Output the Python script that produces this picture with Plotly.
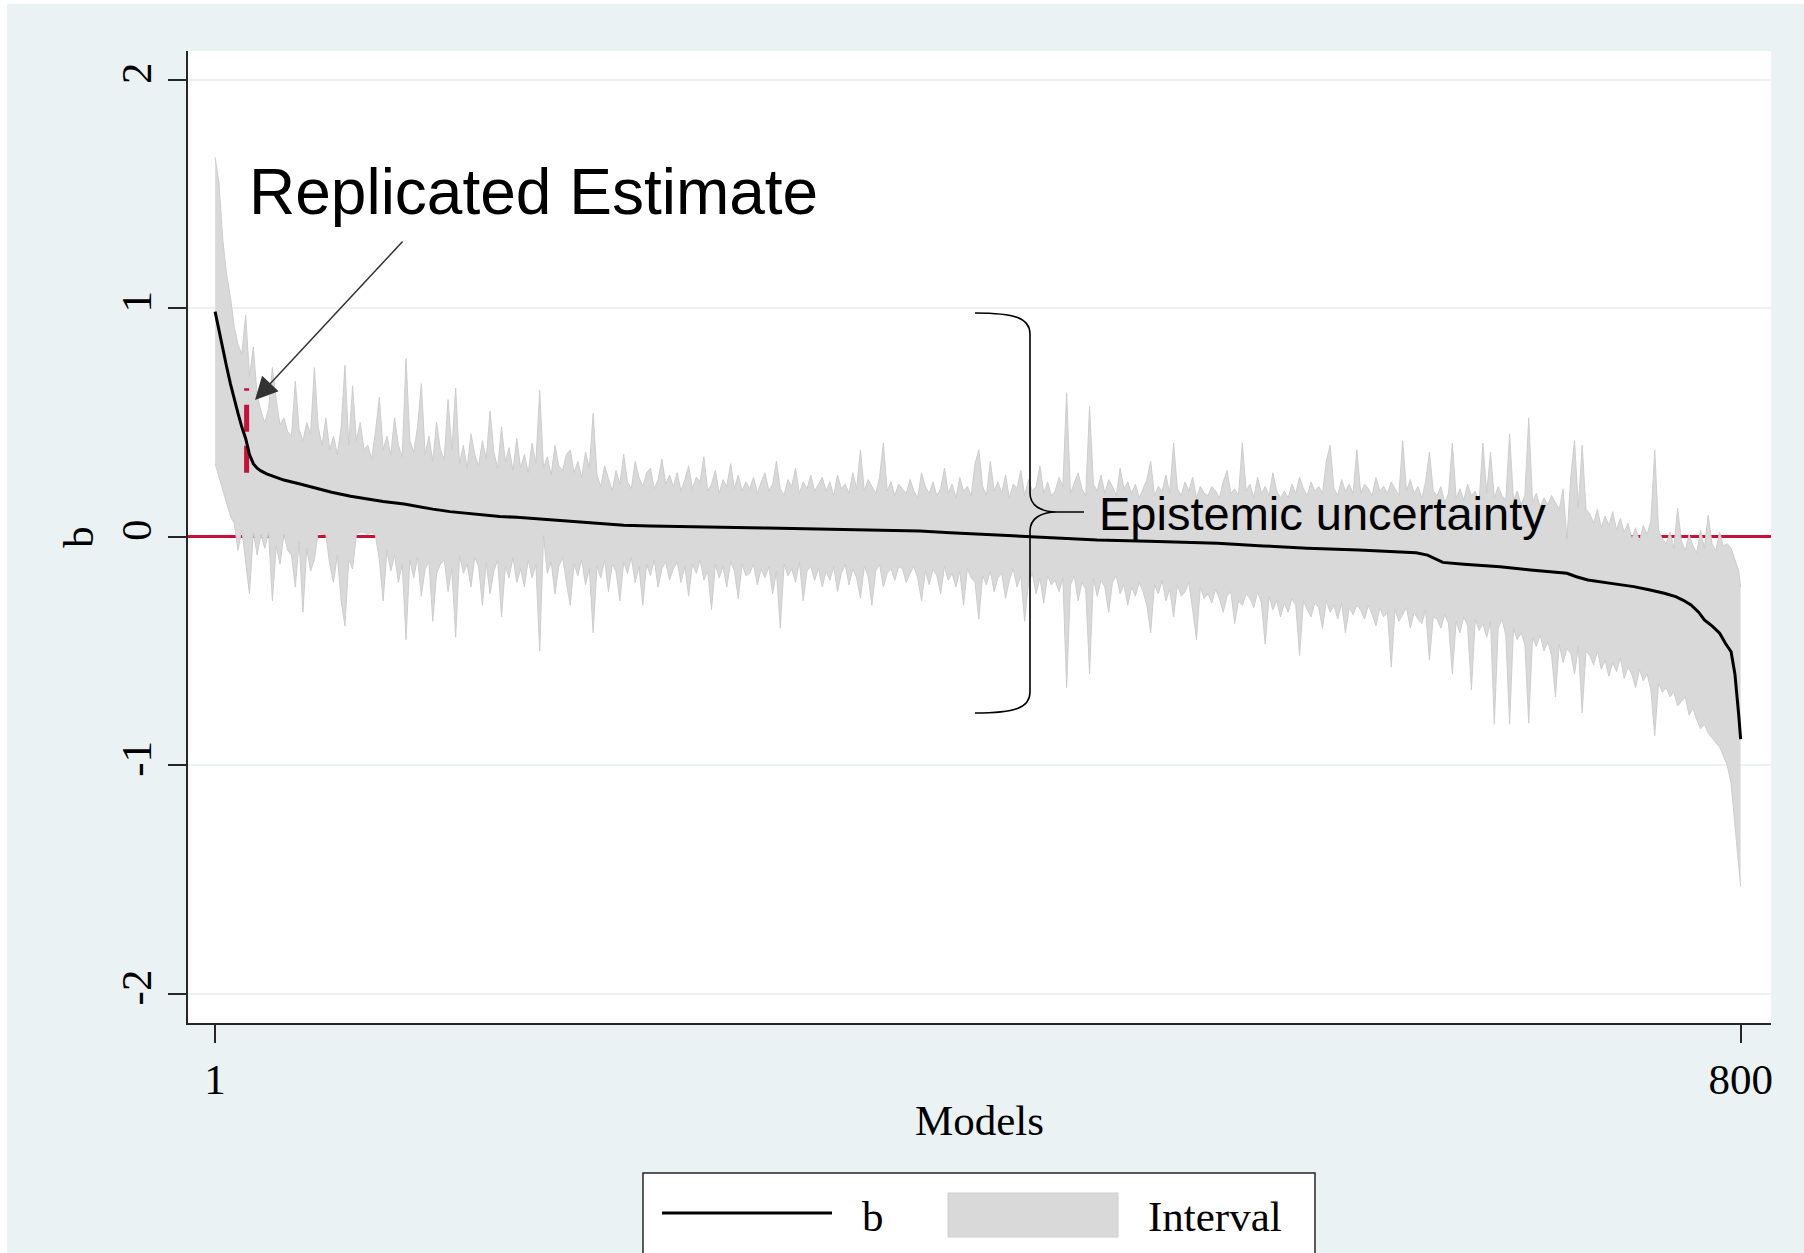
import plotly.graph_objects as go

# ---------------- data ----------------
ci_models = list(range(1, 800, 2)) + [800]

upper = (
    [1.66, 1.55, 1.30, 1.15, 1.05, 0.92, 0.84, 0.80, 0.97, 0.70, 0.83, 0.62, 0.55, 0.50, 0.56, 0.74, 0.60, 0.49, 0.52, 0.46]
    + [0.44, 0.68, 0.47, 0.42, 0.50, 0.45, 0.74, 0.48, 0.40, 0.52, 0.38, 0.44, 0.36, 0.48, 0.75, 0.40, 0.66, 0.42, 0.50, 0.38]
    + [0.40, 0.34, 0.46, 0.61, 0.38, 0.44, 0.36, 0.52, 0.40, 0.35, 0.78, 0.42, 0.37, 0.48, 0.67, 0.36, 0.44, 0.33, 0.50, 0.38]
    + [0.34, 0.60, 0.38, 0.65, 0.32, 0.40, 0.30, 0.45, 0.36, 0.31, 0.42, 0.34, 0.55, 0.37, 0.30, 0.48, 0.33, 0.39, 0.29, 0.43]
    + [0.30, 0.36, 0.28, 0.41, 0.32, 0.64, 0.30, 0.35, 0.27, 0.40, 0.31, 0.29, 0.36, 0.38, 0.28, 0.33, 0.26, 0.37, 0.30, 0.54]
    + [0.27, 0.22, 0.31, 0.25, 0.20, 0.29, 0.23, 0.36, 0.24, 0.21, 0.33, 0.26, 0.22, 0.28, 0.30, 0.21, 0.25, 0.34, 0.23, 0.27]
    + [0.22, 0.28, 0.20, 0.25, 0.31, 0.21, 0.26, 0.24, 0.35, 0.20, 0.23, 0.29, 0.19, 0.25, 0.22, 0.32, 0.21, 0.27, 0.20, 0.24]
    + [0.21, 0.26, 0.19, 0.24, 0.28, 0.20, 0.23, 0.33, 0.21, 0.18, 0.25, 0.22, 0.30, 0.19, 0.24, 0.21, 0.27, 0.20, 0.23, 0.26]
    + [0.20, 0.24, 0.18, 0.27, 0.21, 0.23, 0.19, 0.28, 0.21, 0.38, 0.20, 0.25, 0.22, 0.19, 0.26, 0.41, 0.20, 0.24, 0.18, 0.23]
    + [0.21, 0.19, 0.25, 0.20, 0.17, 0.28, 0.22, 0.19, 0.24, 0.18, 0.21, 0.30, 0.19, 0.23, 0.17, 0.26, 0.20, 0.22, 0.18, 0.32]
    + [0.38, 0.22, 0.18, 0.33, 0.20, 0.24, 0.19, 0.27, 0.17, 0.23, 0.21, 0.29, 0.18, 0.25, 0.20, 0.22, 0.31, 0.19, 0.24, 0.18]
    + [0.20, 0.26, 0.22, 0.63, 0.19, 0.24, 0.28, 0.21, 0.18, 0.57, 0.23, 0.20, 0.27, 0.19, 0.25, 0.22, 0.18, 0.30, 0.21, 0.24]
    + [0.19, 0.23, 0.17, 0.21, 0.25, 0.33, 0.18, 0.22, 0.20, 0.27, 0.19, 0.41, 0.21, 0.18, 0.24, 0.20, 0.26, 0.17, 0.22, 0.19]
    + [0.18, 0.22, 0.20, 0.17, 0.24, 0.29, 0.19, 0.21, 0.18, 0.41, 0.20, 0.23, 0.17, 0.26, 0.19, 0.22, 0.18, 0.28, 0.20, 0.17]
    + [0.20, 0.17, 0.23, 0.19, 0.26, 0.21, 0.18, 0.24, 0.20, 0.22, 0.19, 0.33, 0.40, 0.21, 0.18, 0.25, 0.20, 0.23, 0.19, 0.38]
    + [0.19, 0.23, 0.21, 0.18, 0.26, 0.20, 0.22, 0.19, 0.24, 0.21, 0.18, 0.42, 0.20, 0.25, 0.19, 0.22, 0.17, 0.24, 0.37, 0.20]
    + [0.18, 0.22, 0.15, 0.19, 0.41, 0.17, 0.21, 0.16, 0.23, 0.18, 0.20, 0.15, 0.41, 0.19, 0.37, 0.17, 0.22, 0.18, 0.16, 0.45]
    + [0.16, 0.20, 0.14, 0.18, 0.52, 0.15, 0.19, 0.13, 0.17, 0.14, 0.18, 0.15, 0.12, 0.21, -0.01, 0.26, 0.42, 0.13, 0.40, 0.12]
    + [0.10, 0.06, 0.12, 0.04, 0.09, 0.05, 0.11, 0.03, 0.08, 0.02, 0.06, -0.01, 0.04, -0.02, 0.05, 0.01, 0.07, 0.38, 0.03, -0.01]
    + [-0.03, 0.02, -0.05, 0.125, -0.02, -0.06, 0.01, -0.04, -0.07, 0.03, -0.05, 0.095, -0.03, -0.06, 0.02, -0.04, -0.03, -0.05, -0.10, -0.15, -0.22]
)

lower = (
    [0.32, 0.26, 0.20, 0.14, 0.09, 0.06, -0.06, 0.03, -0.10, -0.25, 0.02, -0.08, 0.01, -0.05, 0.02, -0.28, -0.04, -0.12, 0.01, -0.06]
    + [-0.08, -0.22, -0.02, -0.33, -0.05, -0.15, -0.10, 0.02, 0.01, 0.01, -0.12, -0.20, -0.08, -0.28, -0.39, -0.10, -0.14, 0.01, 0.02, 0.02]
    + [0.01, 0.02, 0.005, -0.10, -0.28, -0.06, -0.15, -0.08, -0.20, -0.12, -0.45, -0.10, -0.18, -0.09, -0.26, -0.14, -0.11, -0.37, -0.16, -0.12]
    + [-0.10, -0.24, -0.14, -0.44, -0.08, -0.16, -0.12, -0.22, -0.09, -0.13, -0.30, -0.11, -0.25, -0.15, -0.10, -0.35, -0.13, -0.18, -0.09, -0.20]
    + [-0.14, -0.22, -0.10, -0.18, -0.12, -0.50, 0.005, -0.16, -0.11, -0.25, -0.13, -0.09, -0.20, -0.30, -0.12, -0.17, -0.10, -0.21, -0.14, -0.42]
    + [-0.13, -0.18, -0.10, -0.24, -0.12, -0.15, -0.28, -0.11, -0.16, -0.09, -0.20, -0.13, -0.30, -0.12, -0.17, -0.10, -0.22, -0.14, -0.11, -0.19]
    + [-0.14, -0.11, -0.20, -0.13, -0.26, -0.12, -0.16, -0.10, -0.19, -0.15, -0.32, -0.12, -0.18, -0.13, -0.22, -0.11, -0.15, -0.27, -0.12, -0.17]
    + [-0.16, -0.12, -0.21, -0.14, -0.18, -0.13, -0.25, -0.15, -0.40, -0.12, -0.17, -0.14, -0.20, -0.11, -0.28, -0.15, -0.13, -0.19, -0.14, -0.22]
    + [-0.15, -0.19, -0.13, -0.24, -0.16, -0.12, -0.21, -0.14, -0.18, -0.27, -0.13, -0.17, -0.30, -0.15, -0.12, -0.22, -0.16, -0.14, -0.19, -0.13]
    + [-0.14, -0.20, -0.16, -0.13, -0.18, -0.28, -0.15, -0.21, -0.14, -0.17, -0.25, -0.13, -0.19, -0.16, -0.22, -0.15, -0.30, -0.14, -0.18, -0.20]
    + [-0.36, -0.17, -0.21, -0.15, -0.24, -0.18, -0.16, -0.27, -0.19, -0.14, -0.22, -0.17, -0.37, -0.20, -0.16, -0.25, -0.18, -0.29, -0.17, -0.21]
    + [-0.19, -0.24, -0.18, -0.66, -0.21, -0.17, -0.28, -0.20, -0.23, -0.60, -0.18, -0.26, -0.19, -0.22, -0.33, -0.20, -0.17, -0.25, -0.21, -0.30]
    + [-0.22, -0.26, -0.20, -0.24, -0.30, -0.42, -0.21, -0.25, -0.19, -0.28, -0.23, -0.35, -0.21, -0.26, -0.24, -0.20, -0.32, -0.45, -0.22, -0.27]
    + [-0.25, -0.29, -0.23, -0.27, -0.33, -0.26, -0.24, -0.38, -0.28, -0.30, -0.25, -0.27, -0.31, -0.24, -0.29, -0.47, -0.26, -0.32, -0.28, -0.35]
    + [-0.29, -0.33, -0.27, -0.30, -0.52, -0.28, -0.32, -0.35, -0.29, -0.31, -0.40, -0.28, -0.33, -0.30, -0.36, -0.29, -0.42, -0.31, -0.34, -0.30]
    + [-0.32, -0.36, -0.30, -0.34, -0.39, -0.31, -0.35, -0.33, -0.57, -0.32, -0.37, -0.34, -0.31, -0.40, -0.33, -0.36, -0.38, -0.32, -0.54, -0.35]
    + [-0.36, -0.40, -0.34, -0.38, -0.60, -0.37, -0.42, -0.35, -0.39, -0.67, -0.36, -0.41, -0.38, -0.44, -0.37, -0.82, -0.40, -0.36, -0.43, -0.82]
    + [-0.40, -0.45, -0.42, -0.47, -0.815, -0.44, -0.48, -0.43, -0.50, -0.46, -0.52, -0.70, -0.47, -0.55, -0.49, -0.51, -0.60, -0.48, -0.77, -0.50]
    + [-0.52, -0.56, -0.50, -0.58, -0.54, -0.61, -0.55, -0.59, -0.53, -0.62, -0.57, -0.60, -0.66, -0.58, -0.63, -0.60, -0.67, -0.87, -0.64, -0.68]
    + [-0.66, -0.70, -0.68, -0.74, -0.72, -0.70, -0.78, -0.75, -0.80, -0.84, -0.82, -0.86, -0.88, -0.90, -0.92, -0.96, -1.00, -1.08, -1.25, -1.45, -1.53]
)

b_models = [1, 3, 5, 7, 9, 11, 13, 15, 17, 19, 21, 23, 25, 28, 32, 37, 45, 54, 62, 72,
            80, 89, 100, 107, 115, 124, 133, 142, 150, 159, 170, 176, 186, 194, 205, 215, 229, 250, 270, 290,
            310, 330, 350, 370, 386, 400, 419, 440, 463, 490, 526, 550, 573, 600, 620, 630, 636, 644, 655, 666,
            674, 690, 709, 714, 720, 733, 744, 752, 760, 766, 770, 774, 778, 781, 785, 789, 792, 795, 797, 799, 800]
b_values = [0.985, 0.90, 0.82, 0.745, 0.67, 0.60, 0.54, 0.48, 0.43, 0.36, 0.32, 0.30, 0.288, 0.275, 0.262, 0.248, 0.232, 0.212, 0.195, 0.177,
            0.165, 0.154, 0.143, 0.132, 0.121, 0.110, 0.102, 0.095, 0.089, 0.085, 0.078, 0.073, 0.066, 0.062, 0.055, 0.050, 0.047, 0.043, 0.040, 0.038,
            0.035, 0.032, 0.028, 0.025, 0.018, 0.012, 0.002, -0.006, -0.014, -0.02, -0.028, -0.04, -0.05, -0.058, -0.065, -0.07, -0.08, -0.112, -0.12, -0.125,
            -0.131, -0.145, -0.16, -0.175, -0.189, -0.205, -0.218, -0.232, -0.247, -0.262, -0.278, -0.298, -0.33, -0.364, -0.39, -0.422, -0.466, -0.503, -0.60, -0.78, -0.885]

replicated_model = [17.5, 17.5]
replicated_interval = [0.28, 0.65]

x_tickvals = [1, 800]
x_ticktext = ["1", "800"]
y_tickvals = [-2, -1, 0, 1, 2]
y_ticktext = ["-2", "-1", "0", "1", "2"]

# ---------------- styling / geometry ----------------
W, H = 1804, 1253
PL, PR, PT, PB = 188, 1771, 51, 1023
X_RANGE = [-13.2, 815.9]
Y_RANGE = [-2.127, 2.125]

BG = "#EAF2F3"
RED = "#C8103A"
CI_FILL = "#D9D9D9"
CI_LINE = "#CDCDCD"
AXC = "#262626"
SERIF = "Liberation Serif"
SANS = "Liberation Sans"
FS = 43


def dx(px):
    return X_RANGE[0] + (px - PL) / (PR - PL) * (X_RANGE[1] - X_RANGE[0])


def dy(py):
    return Y_RANGE[1] - (py - PT) / (PB - PT) * (Y_RANGE[1] - Y_RANGE[0])


def P(px, py):
    return f"{dx(px):.3f},{dy(py):.4f}"


def qx(px):
    return (px - PL) / (PR - PL)


def qy(py):
    return (PB - py) / (PB - PT)


fig = go.Figure()

fig.add_trace(go.Scatter(x=ci_models, y=lower, mode="lines",
                         line=dict(color=CI_LINE, width=1), showlegend=False, hoverinfo="skip"))
fig.add_trace(go.Scatter(x=ci_models, y=upper, mode="lines", fill="tonexty", fillcolor=CI_FILL,
                         line=dict(color=CI_LINE, width=1), name="Interval", showlegend=False))
fig.add_trace(go.Scatter(x=replicated_model, y=replicated_interval, mode="lines",
                         line=dict(color=RED, width=5, dash="27px,14px"), showlegend=False))
fig.add_trace(go.Scatter(x=b_models, y=b_values, mode="lines",
                         line=dict(color="black", width=3), name="b", showlegend=False))

shapes = []
# thin white frame at top/left of screenshot
shapes.append(dict(type="rect", xref="paper", yref="paper", x0=qx(0), x1=qx(7), y0=qy(W), y1=qy(0),
                   fillcolor="white", line=dict(width=0), layer="below"))
shapes.append(dict(type="rect", xref="paper", yref="paper", x0=qx(0), x1=qx(W), y0=qy(4), y1=qy(0),
                   fillcolor="white", line=dict(width=0), layer="below"))
# curly brace
brace = (f"M {P(975,313)} C {P(1015,313)} {P(1030,318)} {P(1030,334)} "
         f"L {P(1030,493)} C {P(1030,505)} {P(1040,512)} {P(1057,512)} L {P(1084,512)} "
         f"M {P(1057,512)} C {P(1040,512)} {P(1030,519)} {P(1030,531)} "
         f"L {P(1030,692)} C {P(1030,708)} {P(1015,713)} {P(975,713)}")
shapes.append(dict(type="path", xref="x", yref="y", path=brace, line=dict(color="black", width=1.6)))
# legend box
shapes.append(dict(type="rect", xref="paper", yref="paper", x0=qx(643), x1=qx(1315), y0=qy(1300), y1=qy(1173),
                   fillcolor="white", line=dict(color=AXC, width=1.5)))
shapes.append(dict(type="line", xref="paper", yref="paper", x0=qx(662), x1=qx(832), y0=qy(1213), y1=qy(1213),
                   line=dict(color="black", width=3)))
shapes.append(dict(type="rect", xref="paper", yref="paper", x0=qx(948), x1=qx(1118), y0=qy(1237), y1=qy(1193),
                   fillcolor=CI_FILL, line=dict(color=CI_LINE, width=1)))

annotations = [
    dict(text="Replicated Estimate", x=dx(247), y=dy(192), xref="x", yref="y", xanchor="left", yanchor="middle",
         showarrow=False, font=dict(family=SANS, size=64, color="black")),
    dict(text="", x=dx(255), y=dy(400), xref="x", yref="y", ax=149, ay=-160, showarrow=True,
         arrowhead=2, arrowsize=3, arrowwidth=1.5, arrowcolor="#333333", standoff=0),
    dict(text="Epistemic uncertainty", x=dx(1097), y=dy(513), xref="x", yref="y", xanchor="left", yanchor="middle",
         showarrow=False, font=dict(family=SANS, size=47, color="black")),
    dict(text="b", x=qx(873), y=qy(1216), xref="paper", yref="paper", xanchor="center", yanchor="middle",
         showarrow=False, font=dict(family=SERIF, size=FS, color="black")),
    dict(text="Interval", x=qx(1146), y=qy(1216), xref="paper", yref="paper", xanchor="left", yanchor="middle",
         showarrow=False, font=dict(family=SERIF, size=FS, color="black")),
]

fig.update_layout(
    width=W, height=H, autosize=False,
    margin=dict(l=PL, r=W - PR, t=PT, b=H - PB, pad=0),
    paper_bgcolor=BG, plot_bgcolor="white",
    showlegend=False,
    shapes=shapes, annotations=annotations,
    xaxis=dict(range=X_RANGE, tickvals=x_tickvals, ticktext=x_ticktext, ticks="outside", ticklen=18,
               tickwidth=1.7, tickcolor=AXC, showline=True, linecolor=AXC, linewidth=1.7,
               showgrid=False, zeroline=False, tickfont=dict(family=SERIF, size=FS, color="black"),
               title=dict(text="Models", font=dict(family=SERIF, size=FS, color="black"), standoff=2)),
    yaxis=dict(range=Y_RANGE, tickvals=y_tickvals, ticktext=y_ticktext, ticks="outside", ticklen=18,
               tickwidth=1.7, tickcolor=AXC, tickangle=-90, showline=True, linecolor=AXC, linewidth=1.7,
               showgrid=True, gridcolor=BG, gridwidth=1.5,
               zeroline=True, zerolinecolor=RED, zerolinewidth=2.5,
               tickfont=dict(family=SERIF, size=FS, color="black"),
               title=dict(text="b", font=dict(family=SERIF, size=FS, color="black"), standoff=6)),
)

fig.write_html("out.html", config={"displayModeBar": False},
               post_script="document.body.style.margin='0';document.body.style.overflow='hidden';")
